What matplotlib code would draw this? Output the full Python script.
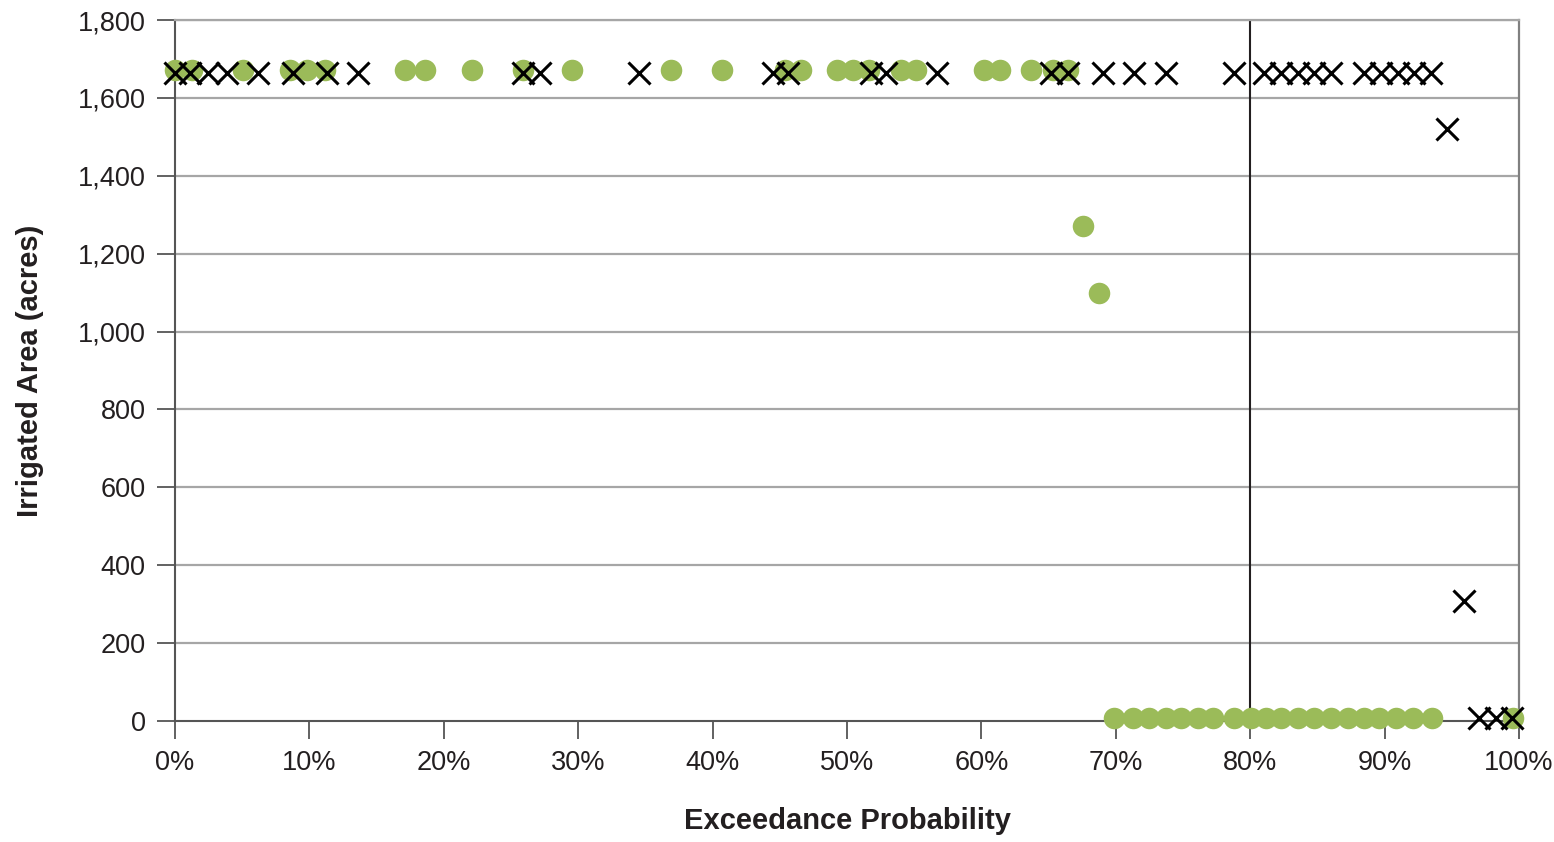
import numpy as np
import matplotlib.pyplot as plt
from matplotlib.ticker import FuncFormatter

plt.rcParams['font.family'] = ['Liberation Sans', 'DejaVu Sans']

# green circles - exceedance probability (%) and irrigated area (acres)
green_pct = [0.0, 1.24, 5.06, 8.56, 9.83, 11.17, 17.13, 18.61, 22.11, 25.91, 29.56,
             36.93, 40.73, 45.42, 46.54, 49.29, 50.48, 51.60, 53.98, 55.10, 60.16,
             61.35, 63.66, 65.30, 66.42, 67.54, 68.73,
             69.84, 71.26, 72.45, 73.72, 74.83, 76.10, 77.21, 78.78, 80.04, 81.16,
             82.28, 83.54, 84.74, 86.00, 87.27, 88.46, 89.58, 90.84, 92.11, 93.52, 99.55]
green_area = [1672] * 25 + [1270, 1100] + [8] * 21

# black crosses
cross_pct = [0.0, 1.12, 2.46, 3.87, 6.18, 8.79, 11.32, 13.63, 25.91, 27.18, 34.55,
             44.53, 45.64, 51.75, 52.87, 56.66, 65.15, 66.42, 69.02, 71.33, 73.72,
             78.78, 81.01, 82.28, 83.54, 84.74, 86.00, 88.46, 89.72, 90.99, 92.18, 93.45,
             94.64, 95.90, 97.0, 98.3, 99.5]
cross_area = [1665] * 32 + [1520, 308] + [8] * 3

threshold_pct = 80
yticks = np.arange(0, 1801, 200)
xticks = np.arange(0, 101, 10)

fig = plt.figure(figsize=(15.54, 8.42), dpi=100)
ax = fig.add_axes([0.1126, 0.1437, 0.8649, 0.8325])

txt = '#231f20'
for y in yticks[1:]:
    ax.axhline(y, color='#a6a6a6', lw=1.6, zorder=1)
ax.plot([threshold_pct, threshold_pct], [0, 1800], color='#231f20', lw=1.5, zorder=2)

ax.plot(green_pct, green_area, 'o', color='#9bbb59', ms=15.5, mec='none',
        zorder=3, clip_on=False)
ax.plot(cross_pct, cross_area, 'x', color='black', ms=16, mew=2.2,
        zorder=4, clip_on=False)

ax.set_xlim(0, 100)
ax.set_ylim(0, 1800)
ax.set_xticks(xticks)
ax.set_yticks(yticks)
ax.xaxis.set_major_formatter(FuncFormatter(lambda v, p: '%d%%' % v))
ax.yaxis.set_major_formatter(FuncFormatter(lambda v, p: '{:,.0f}'.format(v)))
ax.tick_params(axis='both', direction='out', length=13, width=1.3, colors='#555555',
               labelcolor=txt, labelsize=19.5, pad=8)

ax.spines['left'].set_color('#555555')
ax.spines['bottom'].set_color('#555555')
ax.spines['left'].set_linewidth(1.5)
ax.spines['bottom'].set_linewidth(1.5)
ax.spines['top'].set_color('#a6a6a6')
ax.spines['right'].set_color('#808080')
ax.spines['top'].set_linewidth(1.6)
ax.spines['right'].set_linewidth(1.6)

ax.set_xlabel('Exceedance Probability', fontsize=21, fontweight='bold', color=txt, labelpad=22)
ax.set_ylabel('Irrigated Area (acres)', fontsize=21, fontweight='bold', color=txt, labelpad=24)

fig.savefig('out.png', dpi=100)
